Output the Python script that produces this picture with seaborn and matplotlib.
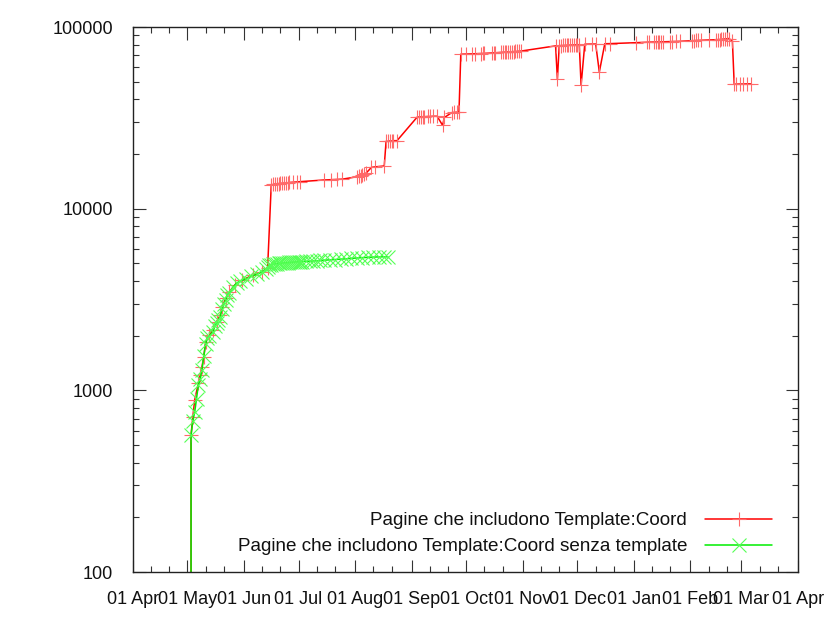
import matplotlib
matplotlib.use("Agg")
import matplotlib.pyplot as plt
import matplotlib.dates as mdates
import matplotlib.ticker as mticker
import seaborn as sns
import pandas as pd

series_labels = ["Pagine che includono Template:Coord",
                 "Pagine che includono Template:Coord senza template"]

red_dates = [
    "2008-05-03", "2008-05-03", "2008-05-04", "2008-05-05", "2008-05-07", "2008-05-08",
    "2008-05-09", "2008-05-10", "2008-05-11", "2008-05-13", "2008-05-15", "2008-05-17",
    "2008-05-19", "2008-05-20", "2008-05-22", "2008-05-24", "2008-05-27", "2008-05-31",
    "2008-06-06", "2008-06-11", "2008-06-14", "2008-06-16", "2008-06-17", "2008-06-18",
    "2008-06-19", "2008-06-20", "2008-06-21", "2008-06-22", "2008-06-23", "2008-06-24",
    "2008-06-25", "2008-06-26", "2008-06-28", "2008-06-30", "2008-07-02", "2008-07-15",
    "2008-07-19", "2008-07-22", "2008-07-25", "2008-08-02", "2008-08-03", "2008-08-04",
    "2008-08-05", "2008-08-06", "2008-08-07", "2008-08-10", "2008-08-12", "2008-08-17",
    "2008-08-18", "2008-08-19", "2008-08-20", "2008-08-21", "2008-08-22", "2008-08-24",
    "2008-09-04", "2008-09-05", "2008-09-06", "2008-09-07", "2008-09-08", "2008-09-10",
    "2008-09-11", "2008-09-13", "2008-09-15", "2008-09-18", "2008-09-19", "2008-09-23",
    "2008-09-24", "2008-09-26", "2008-09-27", "2008-09-28", "2008-10-01", "2008-10-04",
    "2008-10-06", "2008-10-09", "2008-10-10", "2008-10-11", "2008-10-15", "2008-10-16",
    "2008-10-17", "2008-10-20", "2008-10-21", "2008-10-22", "2008-10-23", "2008-10-24",
    "2008-10-25", "2008-10-26", "2008-10-27", "2008-10-28", "2008-10-29", "2008-10-30",
    "2008-10-31", "2008-11-19", "2008-11-20", "2008-11-21", "2008-11-22", "2008-11-23",
    "2008-11-24", "2008-11-25", "2008-11-26", "2008-11-27", "2008-11-28", "2008-11-29",
    "2008-11-30", "2008-12-01", "2008-12-02", "2008-12-03", "2008-12-05", "2008-12-09",
    "2008-12-11", "2008-12-13", "2008-12-16", "2008-12-19", "2009-01-02", "2009-01-08",
    "2009-01-09", "2009-01-12", "2009-01-13", "2009-01-14", "2009-01-15", "2009-01-16",
    "2009-01-17", "2009-01-21", "2009-01-22", "2009-01-24", "2009-01-26", "2009-02-02",
    "2009-02-03", "2009-02-04", "2009-02-05", "2009-02-07", "2009-02-11", "2009-02-15",
    "2009-02-16", "2009-02-17", "2009-02-18", "2009-02-19", "2009-02-20", "2009-02-21",
    "2009-02-22", "2009-02-24", "2009-02-25", "2009-02-26", "2009-02-28", "2009-03-02",
    "2009-03-04", "2009-03-06",
]
red_values = [
    10, 568, 716, 886, 1094, 1213,
    1349, 1530, 1850, 2013, 2146, 2384,
    2594, 2882, 3206, 3489, 3800, 4048,
    4313, 4498, 4698, 13500, 13600, 13650,
    13700, 13750, 13800, 13800, 13850, 13900,
    13900, 13950, 14000, 14050, 14100, 14400,
    14450, 14500, 14550, 15000, 15100, 15200,
    15300, 15500, 15700, 16900, 17000, 17200,
    23500, 23500, 23600, 23600, 23700, 23700,
    31900, 32000, 32000, 32100, 32100, 32200,
    32200, 32300, 32300, 28800, 31800, 33800,
    33900, 34000, 34100, 70900, 71000, 71200,
    71300, 71500, 71600, 71700, 72000, 72100,
    72200, 72500, 72600, 72700, 72800, 72900,
    73000, 73100, 73300, 73400, 73500, 73700,
    73800, 78800, 51600, 79000, 79100, 79200,
    79300, 79300, 79400, 79500, 79600, 79700,
    79800, 79900, 80000, 47800, 80500, 80600,
    80700, 56600, 81000, 81100, 82000, 82500,
    82600, 82700, 82800, 82800, 82900, 83000,
    83000, 83200, 83300, 83400, 83500, 84200,
    84300, 84400, 84500, 84600, 84900, 85200,
    85300, 85400, 85600, 85800, 86000, 86200,
    86500, 84000, 48500, 48500, 48600, 48600,
    48700, 48700,
]

green_dates = [
    "2008-05-03", "2008-05-03", "2008-05-04", "2008-05-05", "2008-05-06", "2008-05-07",
    "2008-05-08", "2008-05-09", "2008-05-10", "2008-05-11", "2008-05-12", "2008-05-13",
    "2008-05-15", "2008-05-16", "2008-05-17", "2008-05-18", "2008-05-19", "2008-05-20",
    "2008-05-21", "2008-05-22", "2008-05-23", "2008-05-24", "2008-05-26", "2008-05-28",
    "2008-05-30", "2008-06-02", "2008-06-05", "2008-06-08", "2008-06-11", "2008-06-13",
    "2008-06-14", "2008-06-15", "2008-06-16", "2008-06-17", "2008-06-18", "2008-06-19",
    "2008-06-20", "2008-06-21", "2008-06-22", "2008-06-23", "2008-06-24", "2008-06-25",
    "2008-06-26", "2008-06-27", "2008-06-28", "2008-06-29", "2008-06-30", "2008-07-01",
    "2008-07-02", "2008-07-03", "2008-07-05", "2008-07-07", "2008-07-09", "2008-07-11",
    "2008-07-13", "2008-07-15", "2008-07-18", "2008-07-21", "2008-07-24", "2008-07-27",
    "2008-07-30", "2008-08-02", "2008-08-05", "2008-08-08", "2008-08-11", "2008-08-14",
    "2008-08-17", "2008-08-19",
]
green_values = [
    10, 568, 680, 760, 900, 1070,
    1150, 1300, 1550, 1800, 1950, 2000,
    2100, 2250, 2350, 2450, 2550, 2800,
    3000, 3150, 3350, 3450, 3700, 3900,
    4000, 4100, 4250, 4350, 4500, 4650,
    4750, 4900, 4920, 4950, 4970, 4990,
    5000, 5010, 5020, 5030, 5040, 5050,
    5060, 5070, 5080, 5090, 5100, 5100,
    5110, 5120, 5130, 5140, 5160, 5170,
    5190, 5210, 5230, 5250, 5280, 5300,
    5330, 5360, 5380, 5400, 5420, 5430,
    5440, 5440,
]

y_ticks = [100, 1000, 10000, 100000]
x_range = ["2008-04-01", "2009-04-01"]

red_line, red_mark = "#ff0000", "#ff6a6a"
green_line, green_mark = "#00ee00", "#55ff55"

sns.set_style("ticks")
plt.rcParams["font.family"] = ["Liberation Sans", "DejaVu Sans"]
plt.rcParams["font.size"] = 13

fig, ax = plt.subplots(figsize=(8.4, 6.3), dpi=100)
fig.subplots_adjust(left=0.158, right=0.95, top=0.957, bottom=0.092)

sns.lineplot(x=pd.to_datetime(red_dates), y=red_values, ax=ax,
             color=red_line, linewidth=1.1, marker="+", markersize=10,
             markeredgecolor=red_mark, markeredgewidth=0.8,
             estimator=None, sort=False, label=series_labels[0])
sns.lineplot(x=pd.to_datetime(green_dates), y=green_values, ax=ax,
             color=green_line, linewidth=1.1, marker="x", markersize=10,
             markeredgecolor=green_mark, markeredgewidth=0.8,
             estimator=None, sort=False, label=series_labels[1])

for ln, mc in zip(ax.get_lines(), [red_mark, green_mark]):
    ln.set_markeredgecolor(mc)
    ln.set_markerfacecolor(mc)

ax.set_yscale("log")
ax.set_ylim(y_ticks[0], y_ticks[-1])
ax.set_xlim(pd.to_datetime(x_range[0]), pd.to_datetime(x_range[1]))
ax.set_xlabel("")
ax.set_ylabel("")

ax.xaxis.set_major_locator(mdates.MonthLocator())
ax.xaxis.set_minor_locator(mdates.DayLocator(bymonthday=[11, 21]))
ax.xaxis.set_major_formatter(mdates.DateFormatter("%d %b"))
ax.yaxis.set_major_locator(mticker.FixedLocator(y_ticks))
ax.yaxis.set_major_formatter(mticker.FuncFormatter(lambda v, p: f"{v:.0f}"))
ax.yaxis.set_minor_locator(mticker.LogLocator(base=10, subs=range(2, 10)))
ax.yaxis.set_minor_formatter(mticker.NullFormatter())

ax.tick_params(which="both", direction="in", top=True, right=True,
               color="#333333", labelsize=13, labelcolor="#111111")
ax.tick_params(which="major", length=9, width=0.8)
ax.tick_params(which="minor", length=4.5, width=0.8)
ax.tick_params(axis="y", which="major", pad=14)
ax.tick_params(axis="x", which="major", pad=14)
for s in ax.spines.values():
    s.set_color("#222222")
    s.set_linewidth(1.0)

leg = ax.legend(loc="lower right", bbox_to_anchor=(0.961, 0.031),
                frameon=False, markerfirst=False, handlelength=3.55,
                handletextpad=0.95, labelspacing=0.45, borderpad=0,
                borderaxespad=0, fontsize=13.6)
for t in leg.get_texts():
    t.set_color("#111111")
for h, mc in zip(leg.legend_handles, [red_mark, green_mark]):
    h.set_markeredgecolor(mc)

fig.savefig("out.png", dpi=100)
